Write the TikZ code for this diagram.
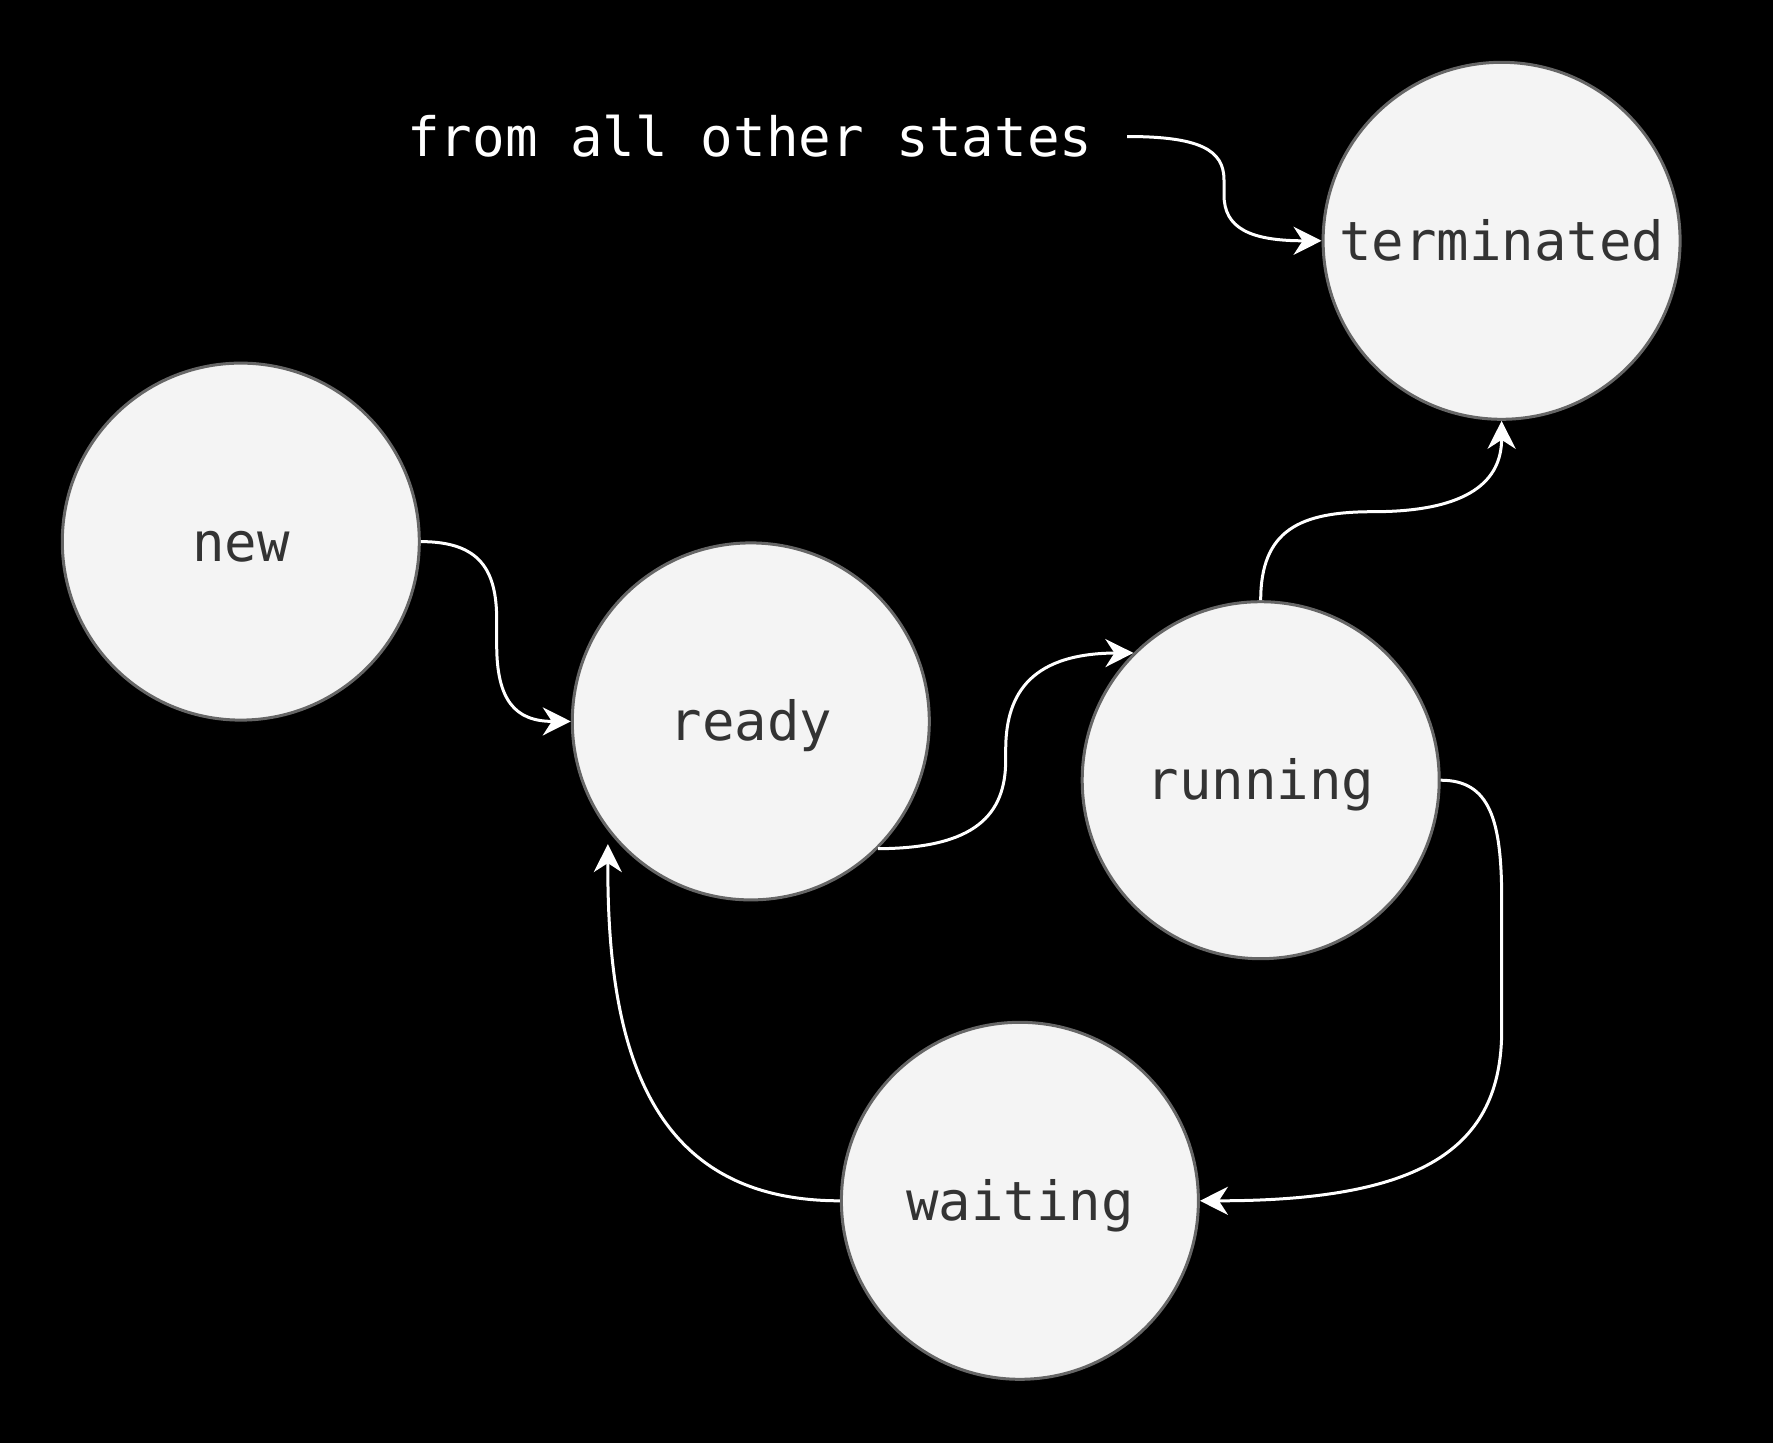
\documentclass[tikz,border=0pt]{standalone}
\usepackage{fontspec}
\newfontfamily\monofnt{DejaVu Sans Mono}
\usetikzlibrary{arrows.meta}
\definecolor{nodefill}{HTML}{F4F4F4}
\definecolor{nodeline}{HTML}{666666}
\definecolor{nodetext}{HTML}{333333}
\tikzset{
  state/.style={circle, draw=nodeline, line width=3pt, fill=nodefill,
    minimum size=357pt, inner sep=0pt, text=nodetext,
    font=\monofnt\fontsize{54}{60}\selectfont, text height=39pt, text depth=0pt},
  flow/.style={draw=white, line width=3pt,
    -{Stealth[length=28pt,width=28pt,inset=9pt]}},
  note/.style={text=white, font=\monofnt\fontsize{54.2}{60}\selectfont, inner sep=0pt}
}
\begin{document}
\begin{tikzpicture}[x=1pt,y=-1pt]
\fill[black] (0,0) rectangle (1773,1443);
\useasboundingbox (0,0) rectangle (1773,1443);

\node[state] (terminated) at (1501.6,240.8) {terminated};
\node[state] (new) at (240.8,541.6) {new};
\node[state] (ready) at (750.8,721.4) {ready};
\node[state] (running) at (1260.7,780.2) {running};
\node[state] (waiting) at (1019.9,1200.8) {waiting};

\node[note, anchor=base west] (src) at (407,156) {from all other states};
\coordinate (srcend) at (1127,136.5);

% from all other states -> terminated
\draw[flow] (srcend) .. controls (1200,136.5) and (1224,150) .. (1224,180)
  -- (1224,195) .. controls (1224,228) and (1250,240.8) .. (terminated.west);

% new -> ready
\draw[flow] (new.east) .. controls (480,541.6) and (496.7,570) .. (496.7,620)
  -- (496.7,645) .. controls (496.7,700) and (515,721.4) .. (ready.west);

% ready -> running
\draw[flow] (ready.-45) .. controls (975,848.3) and (1005.7,815) .. (1005.7,760)
  -- (1005.7,750) .. controls (1005.7,700) and (1025,653.5) .. (running.135);

% running -> terminated
\draw[flow] (running.north) .. controls (1260.7,530) and (1300,511.7) .. (1373,511.7)
  .. controls (1470,511.7) and (1501.6,480) .. (terminated.south);

% running -> waiting
\draw[flow] (running.east) .. controls (1490,780.2) and (1501.7,820) .. (1501.7,900)
  -- (1501.7,1030) .. controls (1501.7,1150) and (1420,1200.8) .. (waiting.east);

% waiting -> ready
\draw[flow] (waiting.west) .. controls (650,1200.8) and (607,1050) .. ([shift={(-5,7)}]ready.220);
\end{tikzpicture}
\end{document}
